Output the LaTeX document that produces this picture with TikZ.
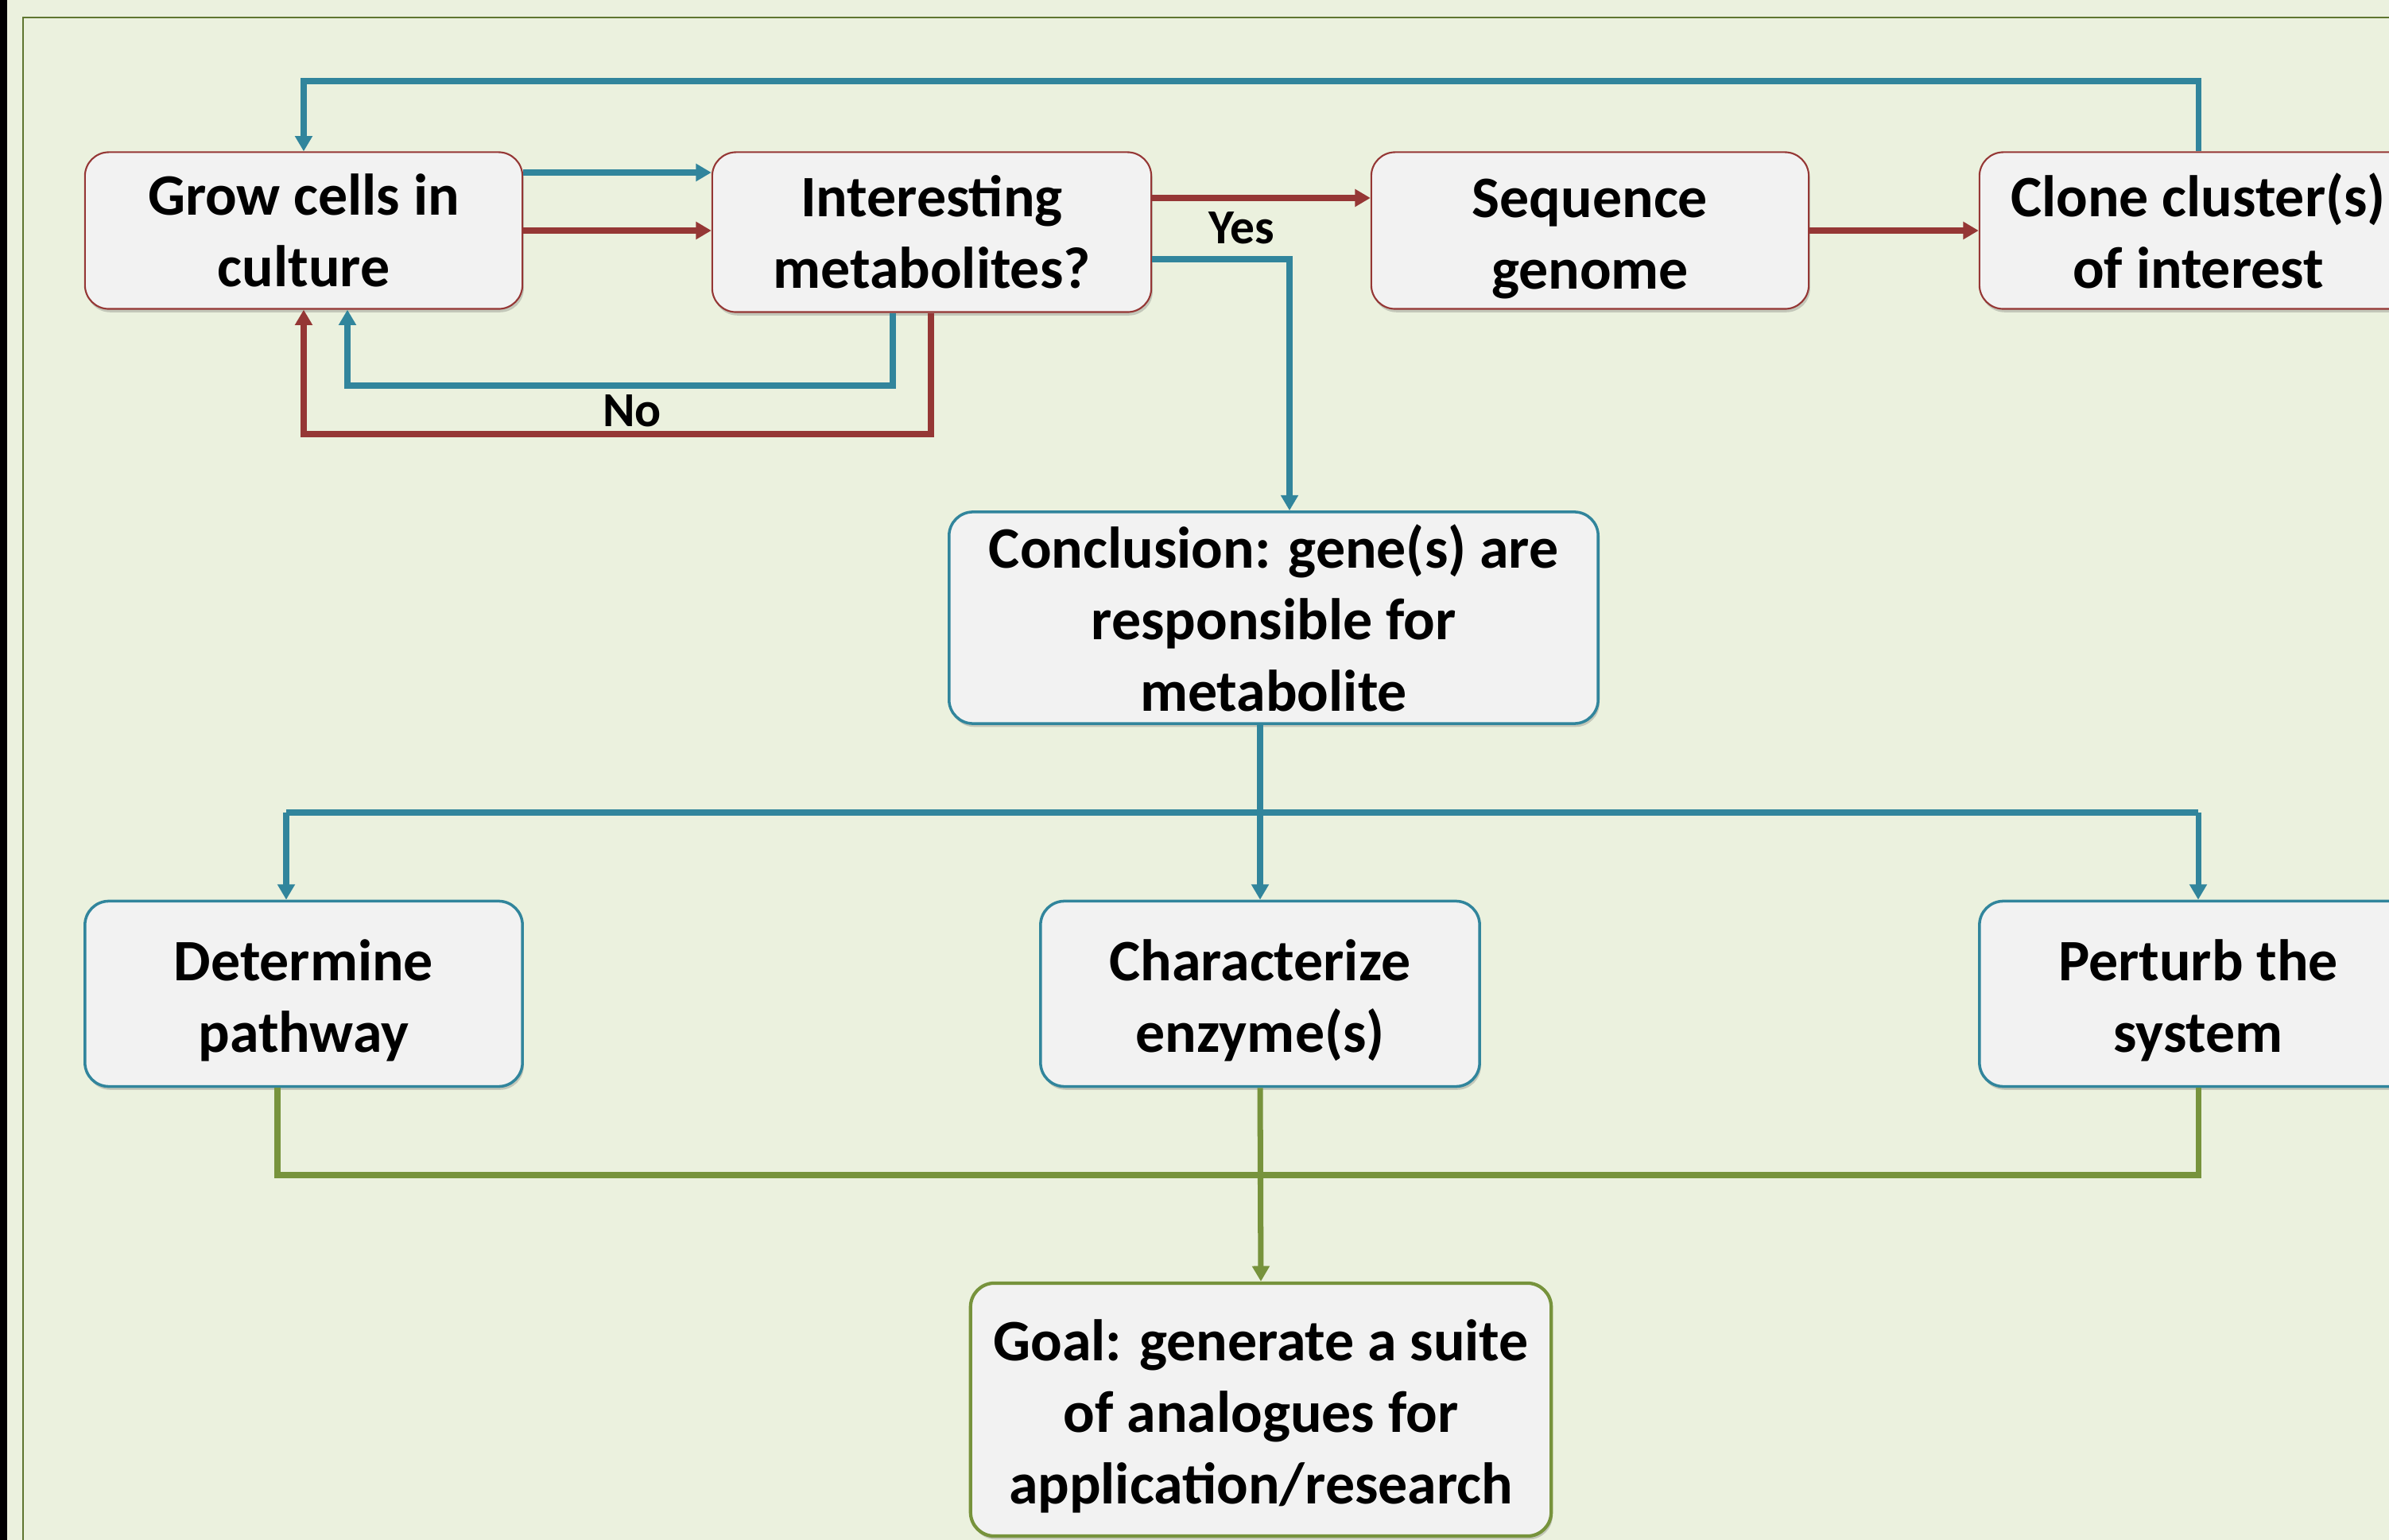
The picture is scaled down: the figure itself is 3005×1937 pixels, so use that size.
\documentclass[tikz,border=0pt]{standalone}
\usepackage{fontspec}
\setmainfont{Carlito}
\usetikzlibrary{arrows.meta,shadows,calc}
\definecolor{bgc}{HTML}{EBF1DE}
\definecolor{blu}{HTML}{31859C}
\definecolor{rd}{HTML}{953735}
\definecolor{grn}{HTML}{77933C}
\definecolor{boxf}{HTML}{F2F2F2}
\newcommand{\dnstrut}{\rule{0pt}{19.5pt}}
\begin{document}
\begin{tikzpicture}[x=0.01cm,y=-0.01cm,
  box/.style={rectangle, rounded corners=0.3cm, fill=boxf, align=center,
    font=\bfseries\fontsize{21}{25.6}\selectfont, inner sep=0pt,
    drop shadow={shadow xshift=0.5pt,shadow yshift=-1.2pt,opacity=0.25,fill=black!70}},
  redbox/.style={box, draw=rd, line width=0.6pt},
  blubox/.style={box, draw=blu, line width=1pt},
  grnbox/.style={box, draw=grn, line width=1.2pt},
  conn/.style={line width=2pt},
  arr/.style={conn,-{Triangle[length=5.5pt,width=6pt]}},
  lbl/.style={font=\bfseries\fontsize{17.5}{20}\selectfont, inner sep=0pt}
]
\clip (0,0) rectangle (3005,1937);
\fill[bgc] (0,0) rectangle (3005,1937);
\fill[black] (0,0) rectangle (9,1937);
\draw[grn!80!black, line width=0.7pt] (29,1945) -- (29,22) -- (3020,22);

% nodes
\node[redbox, minimum width=5.5cm, minimum height=1.97cm] (grow) at (382,290) {Grow cells in\\culture};
\node[redbox, minimum width=5.52cm, minimum height=2.01cm] (inter) at (1172,292) {Interesting\\metabolites?};
\node[redbox, minimum width=5.5cm, minimum height=1.97cm] (seq) at (2000,290) {\dnstrut Sequence\\genome};
\node[redbox, minimum width=5.5cm, minimum height=1.97cm] (clone) at (2765,290) {Clone cluster(s)\\of interest};
\node[blubox, minimum width=8.16cm, minimum height=2.66cm] (concl) at (1602,777) {Conclusion: gene(s) are\\responsible for\\metabolite};
\node[blubox, minimum width=5.5cm, minimum height=2.33cm] (det) at (382,1250) {\dnstrut Determine\\pathway};
\node[blubox, minimum width=5.52cm, minimum height=2.33cm] (char) at (1585,1250) {\dnstrut Characterize\\enzyme(s)};
\node[blubox, minimum width=5.5cm, minimum height=2.33cm] (pert) at (2765,1250) {\dnstrut Perturb the\\system};
\node[grnbox, minimum width=7.3cm, minimum height=3.18cm] (goal) at (1586,1773) {\dnstrut Goal: generate a suite\\of analogues for\\application/research};

% top loop
\draw[arr, blu] (clone.north) -- (clone.north |- 0,102) -| (grow.north);
\draw[arr, blu] (grow.east |- 0,217) -- (inter.west |- 0,217);
\draw[arr, rd] (grow.east) -- (grow.east -| inter.west);
\draw[arr, blu] (inter.south -| 1123,0) |- (437,485) -- (grow.south -| 437,0);
\draw[arr, rd] (inter.south -| 1171,0) |- (grow.south |- 0,546) -- (grow.south);
\node[lbl] (no) at (795,517) {No};
\draw[arr, rd] (inter.east |- 0,249) -- (seq.west |- 0,249);
\node[lbl] (yes) at (1562,287) {Yes};
\draw[arr, blu] (inter.east |- 0,326) -| (concl.north -| 1622,0);
\draw[arr, rd] (seq.east) -- (clone.west);

% conclusion branches
\coordinate (jl) at (360,1022);
\coordinate (jr) at (pert.north |- 0,1022);
\draw[conn, blu] (jl) -- (jr);
\draw[arr, blu] (concl.south -| char.north) -- (char.north);
\draw[arr, blu] (jl) -- (det.north -| jl);
\draw[arr, blu] (jr) -- (pert.north);

% goal merge
\draw[conn, grn] (det.south -| 349,0) |- (pert.south |- 0,1478) -- (pert.south);
\draw[arr, grn] (char.south) -- (goal.north);
\end{tikzpicture}
\end{document}
